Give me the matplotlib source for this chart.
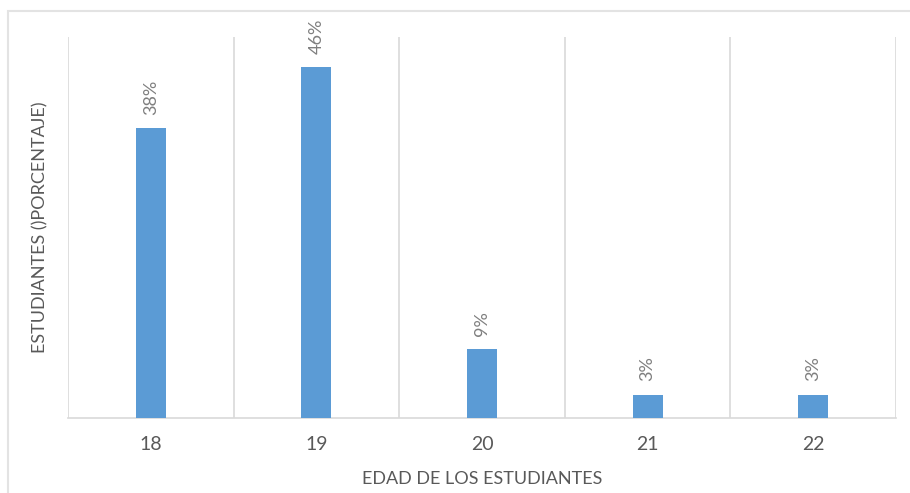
import matplotlib.pyplot as plt
from matplotlib.patches import Rectangle

edades = ['18', '19', '20', '21', '22']
porcentajes = [38, 46, 9, 3, 3]

plt.rcParams['font.family'] = ['Lato', 'DejaVu Sans']
gris = '#595959'
linea = '#d9d9d9'

fig = plt.figure(figsize=(9.1, 4.93), dpi=100)
# marco del grafico
fig.patches.append(Rectangle((8 / 910, -0.05), 1.1, (493 - 11) / 493 + 0.05,
                             transform=fig.transFigure, fill=False,
                             edgecolor='#e3e3e3', linewidth=1.5))

ax = fig.add_axes([68 / 910, 75 / 493, 828 / 910, 381 / 493])
x = range(len(edades))
barras = ax.bar(x, porcentajes, width=0.18, color='#5b9bd5', zorder=3)

for xi, v in zip(x, porcentajes):
    ax.annotate(f'{v}%', (xi, v), xytext=(0, 10), textcoords='offset points',
                rotation=90, ha='center', va='bottom', color='#7f7f7f',
                fontsize=13)

ax.set_xlim(-0.5, len(edades) - 0.5)
ax.set_ylim(0, 50)
ax.set_xticks(list(x))
ax.set_xticklabels(edades, color=gris, fontsize=14)
ax.set_yticks([])
ax.tick_params(axis='x', length=0, pad=13)

# lineas verticales entre categorias
for b in [i - 0.5 for i in range(len(edades) + 1)]:
    ax.axvline(b, color=linea, linewidth=1.2, zorder=1)

for s in ['top', 'left', 'right']:
    ax.spines[s].set_visible(False)
ax.spines['bottom'].set_color(linea)
ax.spines['bottom'].set_linewidth(1.2)

ax.set_xlabel('EDAD DE LOS ESTUDIANTES', color=gris, fontsize=13, labelpad=13)
ax.set_ylabel('ESTUDIANTES ()PORCENTAJE)', color=gris, fontsize=13, labelpad=14)

fig.savefig('out.png', dpi=100)
